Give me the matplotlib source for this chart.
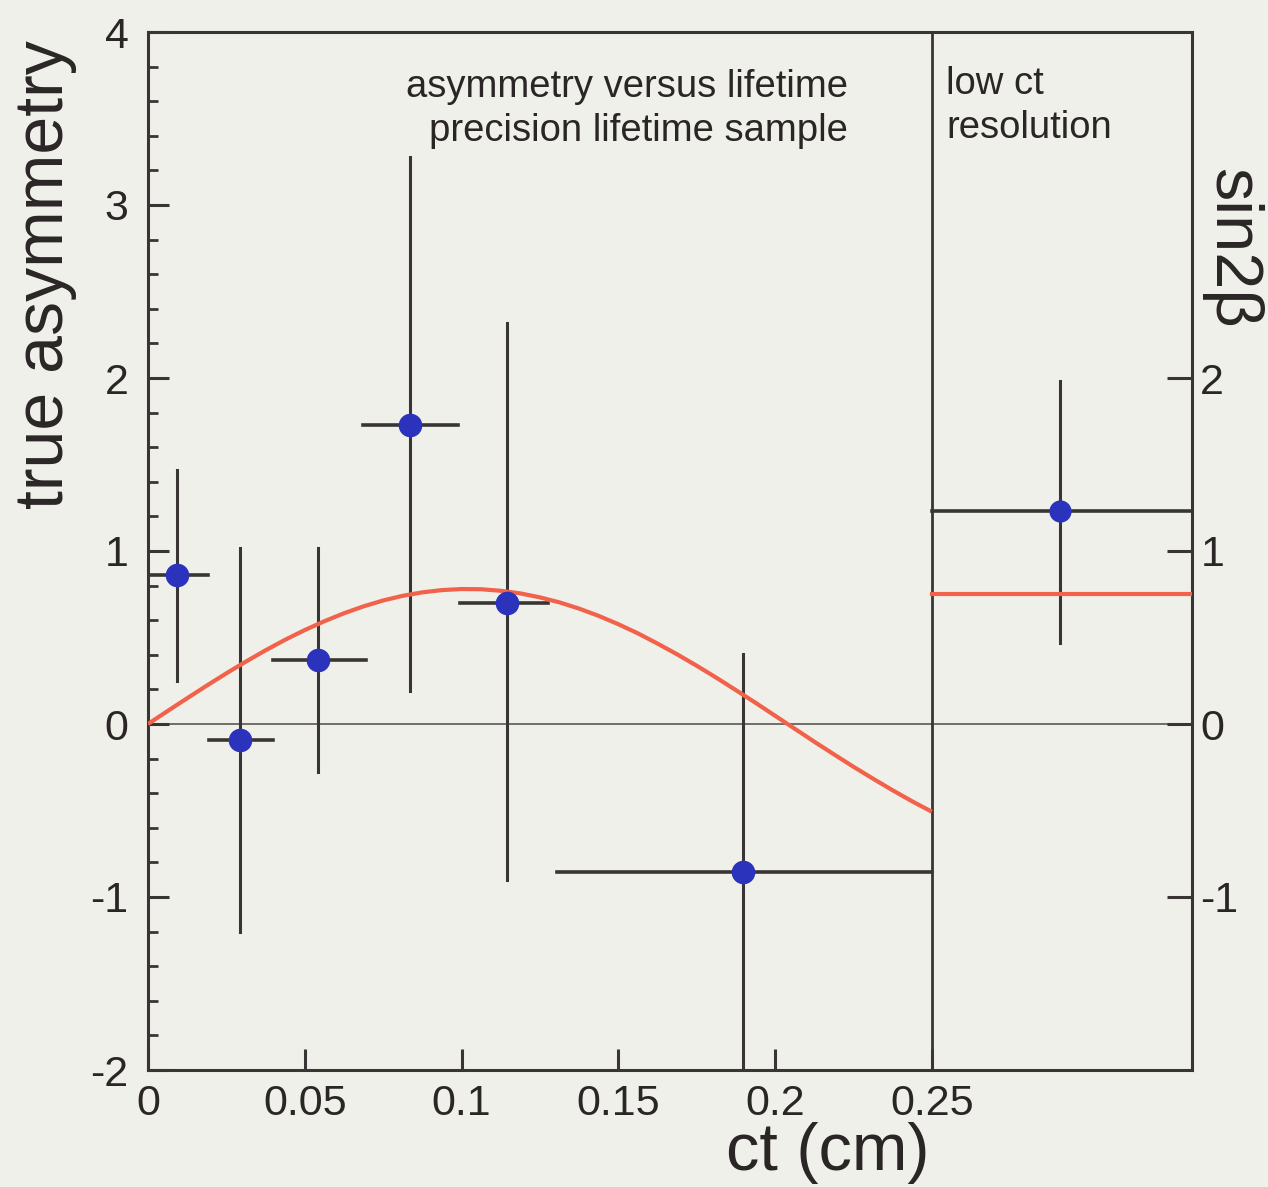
import numpy as np
import matplotlib
matplotlib.use("Agg")
import matplotlib.pyplot as plt
from matplotlib.ticker import MultipleLocator

# ======================
# data
# ======================
# binned asymmetry, precision lifetime sample
ct_mid = [0.0092, 0.0293, 0.0542, 0.0835, 0.1145, 0.1897]
ct_lo = [0.0, 0.0195, 0.0398, 0.0686, 0.0995, 0.1304]
ct_hi = [0.0191, 0.0399, 0.0695, 0.0989, 0.1276, 0.25]
asym = [0.86, -0.09, 0.37, 1.73, 0.70, -0.855]
asym_up = [1.47, 1.02, 1.02, 3.28, 2.32, 0.405]
asym_dn = [0.25, -1.20, -0.28, 0.19, -0.90, -2.6]

# low ct resolution sample (single bin)
low_x, low_lo, low_hi = 0.2908, 0.25, 0.333
low_val, low_up, low_dn = 1.23, 1.98, 0.47

# expected asymmetry curve
curve_ct = [0.0, 0.00625, 0.0125, 0.01875, 0.025, 0.03125, 0.0375, 0.04375,
            0.05, 0.05625, 0.0625, 0.06875, 0.075, 0.08125, 0.0875, 0.09375,
            0.1, 0.10625, 0.1125, 0.11875, 0.125, 0.13125, 0.1375, 0.14375,
            0.15, 0.15625, 0.1625, 0.16875, 0.175, 0.18125, 0.1875, 0.19375,
            0.2, 0.20625, 0.2125, 0.21875, 0.225, 0.23125, 0.2375, 0.24375, 0.25]
curve_a = [0.0, 0.075, 0.149, 0.222, 0.293, 0.361, 0.426, 0.487,
           0.543, 0.594, 0.640, 0.680, 0.714, 0.741, 0.761, 0.774,
           0.780, 0.779, 0.770, 0.755, 0.732, 0.703, 0.667, 0.625,
           0.577, 0.524, 0.465, 0.403, 0.337, 0.268, 0.196, 0.123,
           0.048, -0.027, -0.102, -0.175, -0.247, -0.316, -0.383, -0.447, -0.507]
sin2b_fit = 0.75

x_ticks = [0, 0.05, 0.1, 0.15, 0.2, 0.25]
x_tick_labels = ["0", "0.05", "0.1", "0.15", "0.2", "0.25"]
y_ticks = [-2, -1, 0, 1, 2, 3, 4]
r_ticks = [-1, 0, 1, 2]

# ======================
# style
# ======================
W, H = 1268, 1187
BG = "#f0f0ea"
INK = "#3a3535"
TXT = "#2a2626"
BLUE = "#2b33bd"
RED = "#f2624a"

plt.rcParams["font.family"] = ["Liberation Sans", "DejaVu Sans"]
plt.rcParams["axes.unicode_minus"] = False

fig = plt.figure(figsize=(W / 100, H / 100), dpi=100, facecolor=BG)
ax = fig.add_axes([148 / W, 1 - 1070 / H, (1192 - 148) / W, (1070 - 32) / H])
ax.set_facecolor(BG)
ax.set_xlim(0, 0.333)
ax.set_ylim(-2, 4)

for s in ax.spines.values():
    s.set_color(INK)
    s.set_linewidth(2.2)

# zero line and sample divider
ax.axhline(0, color="#6f6c6a", lw=1.4, zorder=1)
ax.axvline(0.25, color=INK, lw=2.0, zorder=2)

# error bars
for i in range(len(ct_mid)):
    ax.plot([ct_mid[i], ct_mid[i]], [asym_dn[i], asym_up[i]], color=INK, lw=2.2, zorder=3)
    ax.plot([ct_lo[i], ct_hi[i]], [asym[i], asym[i]], color=INK, lw=2.6, zorder=3)
ax.plot([low_x, low_x], [low_dn, low_up], color=INK, lw=2.2, zorder=3)
ax.plot([low_lo, low_hi], [low_val, low_val], color=INK, lw=2.6, zorder=3)

# expected curve + fitted sin2beta
ax.plot(curve_ct, curve_a, color=RED, lw=3.0, zorder=4, solid_capstyle="butt")
ax.plot([low_lo, low_hi], [sin2b_fit, sin2b_fit], color=RED, lw=3.0, zorder=4)

# points
ax.plot(ct_mid, asym, "o", color=BLUE, ms=17, mec="none", zorder=5)
ax.plot([low_x], [low_val], "o", color=BLUE, ms=16, mec="none", zorder=5)

# ======================
# axes
# ======================
ax.set_xticks(x_ticks)
ax.set_xticklabels(x_tick_labels)
ax.set_yticks(y_ticks)
ax.yaxis.set_minor_locator(MultipleLocator(0.2))
ax.tick_params(axis="both", which="major", direction="in", length=15, width=2.2,
               color=INK, labelsize=31, labelcolor=TXT)
ax.tick_params(axis="x", pad=10)
ax.tick_params(axis="y", pad=14)
ax.tick_params(axis="y", which="minor", direction="in", length=7, width=2.0, color=INK)
ax.tick_params(axis="x", which="minor", bottom=False)

ax2 = ax.twinx()
ax2.set_ylim(-2, 4)
ax2.set_yticks(r_ticks)
ax2.tick_params(axis="y", direction="in", length=18, width=2.2, color=INK,
                labelsize=31, labelcolor=TXT, pad=6)
for s in ax2.spines.values():
    s.set_visible(False)

# ======================
# labels
# ======================
def fxy(px, py):
    return px / W, 1 - py / H

fig.text(*fxy(45, 275), "true asymmetry", rotation=90, fontsize=49,
         ha="center", va="center", color=TXT)
fig.text(*fxy(828, 1153), "ct (cm)", fontsize=48, ha="center", va="center",
         color=TXT)
fig.text(*fxy(1231, 248), "sin2β", rotation=270, fontsize=48,
         ha="center", va="center", color=TXT)

fig.text(*fxy(848, 87), "asymmetry versus lifetime", fontsize=27.5,
         ha="right", va="center", color=TXT)
fig.text(*fxy(848, 131), "precision lifetime sample", fontsize=27.5,
         ha="right", va="center", color=TXT)
fig.text(*fxy(946, 84), "low ct", fontsize=27.5, ha="left", va="center",
         color=TXT)
fig.text(*fxy(946, 128), "resolution", fontsize=27.5, ha="left", va="center",
         color=TXT)

fig.savefig("out.png", dpi=100, facecolor=BG)
